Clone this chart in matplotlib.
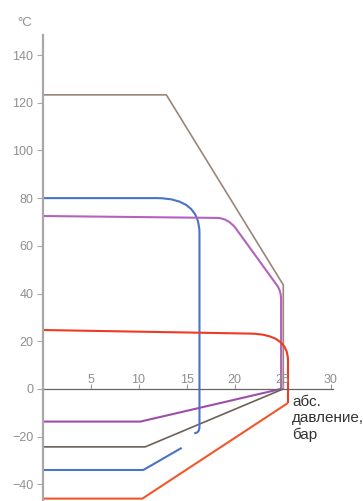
import matplotlib
matplotlib.use("Agg")
import matplotlib.pyplot as plt
from matplotlib.path import Path
from matplotlib.patches import PathPatch

plt.rcParams["font.family"] = ["Liberation Sans", "DejaVu Sans"]

M, L, C = Path.MOVETO, Path.LINETO, Path.CURVE3

# pressure (bar) / temperature (degC) outlines, C = rounded corner (control point + end)
brown_up_p = [0, 12.9, 25.08, 25.08]
brown_up_t = [123.3, 123.3, 43.6, 0]
brown_up_c = [M, L, L, L]
brown_lo_p = [25.08, 10.7, 0]
brown_lo_t = [0, -24.3, -24.3]
brown_lo_c = [M, L, L]

blue_up_p = [0, 11.9, 16.35, 16.35, 16.35, 16.35, 15.8]
blue_up_t = [80, 80, 80, 65.4, -15.9, -18.5, -18.6]
blue_up_c = [M, L, C, C, L, C, C]
blue_lo_p = [0, 10.5, 14.5]
blue_lo_t = [-34, -34, -24.7]
blue_lo_c = [M, L, L]

purple_up_p = [0, 18.2, 19.3, 20.1, 24.45, 24.85, 24.85, 24.85]
purple_up_t = [72.5, 71.7, 71.6, 67.5, 43.3, 41.0, 37.5, 0]
purple_up_c = [M, L, C, C, L, C, C, L]
purple_lo_p = [24.85, 10.2, 0]
purple_lo_t = [0, -13.7, -13.7]
purple_lo_c = [M, L, L]

red_up_p = [0, 21.6, 25.57, 25.57, 25.57]
red_up_t = [24.7, 23.2, 23.0, 12.0, -5.9]
red_up_c = [M, L, C, C, L]
red_lo_p = [25.57, 10.4, 0]
red_lo_t = [-5.9, -46.0, -46.0]
red_lo_c = [M, L, L]

x_ticks = [5, 10, 15, 20, 25, 30]
y_ticks = [-40, -20, 0, 20, 40, 60, 80, 100, 120, 140]


def draw(ax, p, t, codes, color, lw=1.5):
    path = Path(list(zip(p, t)), codes)
    ax.add_patch(PathPatch(path, facecolor="none", edgecolor=color, lw=lw,
                           capstyle="butt", joinstyle="round", clip_on=False))


fig = plt.figure(figsize=(3.63, 5.01), dpi=100)
ax = fig.add_axes([42.5 / 363, 0, 290.9 / 363, 466 / 501])
ax.set_xlim(0, 30.3)
ax.set_ylim(-47, 148.4)

# curves
draw(ax, brown_up_p, brown_up_t, brown_up_c, "#9b8579", 1.2)
draw(ax, brown_lo_p, brown_lo_t, brown_lo_c, "#6f5f57", 1.2)
draw(ax, blue_up_p, blue_up_t, blue_up_c, "#4a72c8")
draw(ax, blue_lo_p, blue_lo_t, blue_lo_c, "#4a72c8")
draw(ax, purple_up_p, purple_up_t, purple_up_c, "#b463bd")
draw(ax, purple_lo_p, purple_lo_t, purple_lo_c, "#9d4ea9")
draw(ax, red_up_p, red_up_t, red_up_c, "#ef3a23")
draw(ax, red_lo_p, red_lo_t, red_lo_c, "#f2562d")

# axes
for s in ["top", "right"]:
    ax.spines[s].set_visible(False)
ax.spines["bottom"].set_position(("data", 0))
ax.spines["bottom"].set_color("#666666")
ax.spines["bottom"].set_linewidth(0.9)
ax.spines["left"].set_color("#a8a8a8")
ax.spines["left"].set_linewidth(1.6)
ax.spines["left"].set_zorder(5)

ax.set_yticks(y_ticks)
ax.set_xticks(x_ticks)
ax.tick_params(axis="y", direction="out", length=4.5, width=0.8, color="#aaaaaa",
               labelcolor="#8f8f8f", labelsize=9, pad=2)
ax.tick_params(axis="x", direction="in", length=3.5, width=0.8, color="#999999",
               labelcolor="#8f8f8f", labelsize=9, pad=-10.5)

fig.text(25 / 363, 1 - 23 / 501, "°C", ha="center", va="center", color="#8f8f8f", size=9.5)
ax.text(26.0, -2.6, "абс.\nдавление,\nбар", ha="left", va="top", size=11,
        color="#333333", linespacing=1.2, clip_on=False)

fig.savefig("out.png", dpi=100)
